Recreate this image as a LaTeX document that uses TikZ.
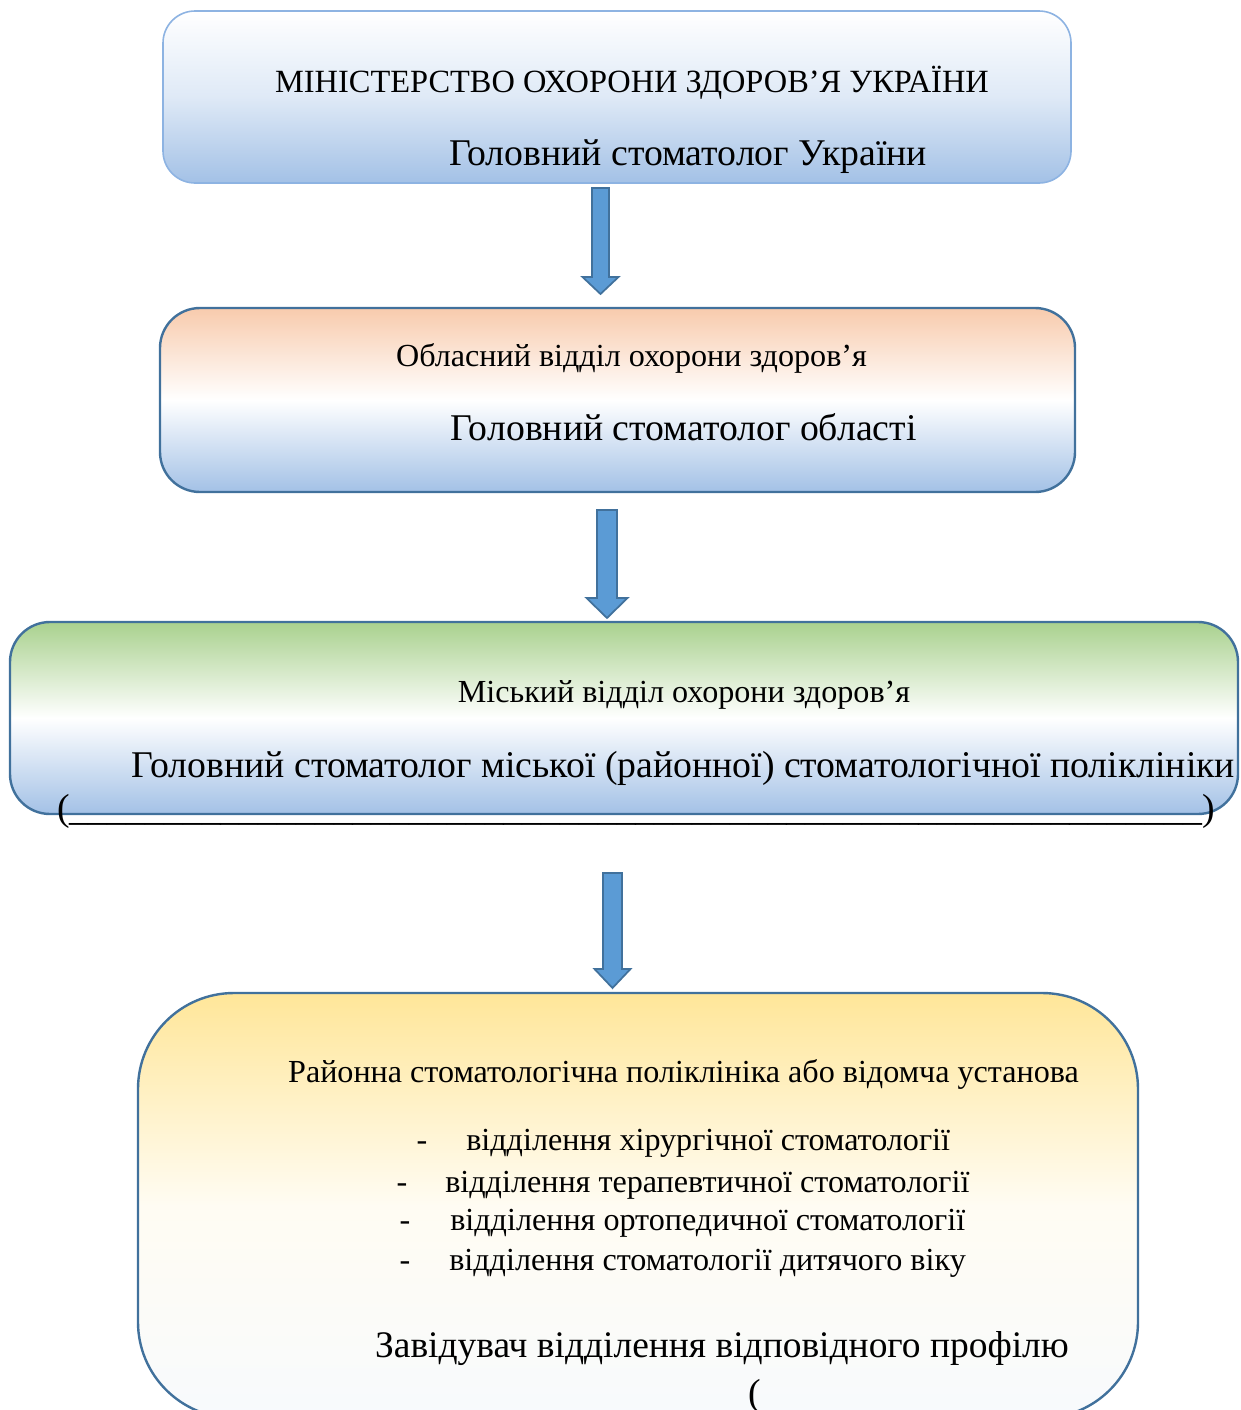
\documentclass[tikz,border=0pt]{standalone}
\usepackage{fontspec}
\setmainfont{Liberation Serif}
\begin{document}
\begin{tikzpicture}[x=0.75pt,y=-0.75pt,
  thinborder/.style={draw=cBorderLight, line width=1.2pt},
  thickborder/.style={draw=cBorder, line width=1.8pt},
  barrow/.style={fill=cArrow, draw=cArrowEdge, line width=1.3pt, line join=miter},
  txt/.style={inner sep=0pt, anchor=base},
  fsmall/.style={font=\fontsize{24.3}{27}\selectfont},
  fmid/.style={font=\fontsize{24.1}{28}\selectfont},
  fbig/.style={font=\fontsize{28.3}{32}\selectfont},
  fhead/.style={font=\fontsize{28.1}{32}\selectfont},
  fitem/.style={font=\fontsize{24.1}{27}\selectfont}]
\definecolor{cBorderLight}{HTML}{8DB3E2}
\definecolor{cBorder}{HTML}{41719C}
\definecolor{cArrow}{HTML}{5B9BD5}
\definecolor{cArrowEdge}{HTML}{41719C}
\definecolor{cBlue}{HTML}{A3C1E6}
\definecolor{cPeach}{HTML}{F8CBAD}
\definecolor{cGreen}{HTML}{A9D18E}
\definecolor{cYellow}{HTML}{FFE699}
\useasboundingbox (0,0) rectangle (1240,1410);
\clip (0,0) rectangle (1240,1410);
% boxes
\path[thinborder, rounded corners=24, top color=white, bottom color=cBlue, middle color=cBlue!35] (163,11) rectangle (1071,183);
\path[thickborder, rounded corners=30, top color=cPeach, bottom color=cBlue, middle color=white] (160,308) rectangle (1075,492);
\path[thickborder, rounded corners=30, top color=cGreen, bottom color=cBlue, middle color=white] (10,622) rectangle (1238,814);
\path[thickborder, rounded corners=72, top color=cYellow, bottom color=white!92!cBlue, middle color=white!88!cYellow] (138,993) rectangle (1138,1418);
% block arrows
\newcommand\blockarr[6]{% x, ytop, yhead, ytip, halfshaft, halfhead
 \draw[barrow] (#1-#5,#2) -- (#1+#5,#2) -- (#1+#5,#3) -- (#1+#6,#3) -- (#1,#4) -- (#1-#6,#3) -- (#1-#5,#3) -- cycle;}
\blockarr{600.5}{188}{277}{294}{8.5}{18}
\blockarr{607}{510}{598}{618}{10}{20.5}
\blockarr{612.5}{873}{969}{988}{9.5}{18}
% texts box 1
\node[txt, fsmall] (t11) at (632,92) {МІНІСТЕРСТВО ОХОРОНИ ЗДОРОВ’Я УКРАЇНИ};
\node[txt, fbig] (t12) at (688,165) {Головний стоматолог України};
% box 2
\node[txt, fmid] (t21) at (631.5,366) {Обласний відділ охорони здоров’я};
\node[txt, fbig] (t22) at (683.5,440) {Головний стоматолог області};
% box 3
\node[txt, fmid] (t31) at (684,702) {Міський відділ охорони здоров’я};
\node[txt, fbig] (t32) at (683.5,777) {Головний стоматолог міської (районної) стоматологічної поліклініки};
\node[txt, fbig] (t33) at (636,820) {(\_\_\_\_\_\_\_\_\_\_\_\_\_\_\_\_\_\_\_\_\_\_\_\_\_\_\_\_\_\_\_\_\_\_\_\_\_\_\_\_\_\_\_\_\_\_\_\_\_\_\_\_\_\_\_\_\_\_\_\_)};
% box 4
\node[txt, fmid] (t41) at (683.5,1082) {Районна стоматологічна поліклініка або відомча установа};
\node[txt, fitem] (d1) at (422,1150) {-};
\node[txt, fitem, anchor=base west] (i1) at (466,1150) {відділення хірургічної стоматології};
\node[txt, fitem] (d2) at (402,1192) {-};
\node[txt, fitem, anchor=base west] (i2) at (445,1192) {відділення терапевтичної стоматології};
\node[txt, fitem] (d3) at (405,1230) {-};
\node[txt, fitem, anchor=base west] (i3) at (450,1230) {відділення ортопедичної стоматології};
\node[txt, fitem] (d4) at (405,1270) {-};
\node[txt, fitem, anchor=base west] (i4) at (449,1270) {відділення стоматології дитячого віку};
\node[txt, fhead] (t45) at (722,1357) {Завідувач відділення відповідного профілю};
\node[txt, fbig] (t46) at (755,1405) {(};
\end{tikzpicture}
\end{document}
